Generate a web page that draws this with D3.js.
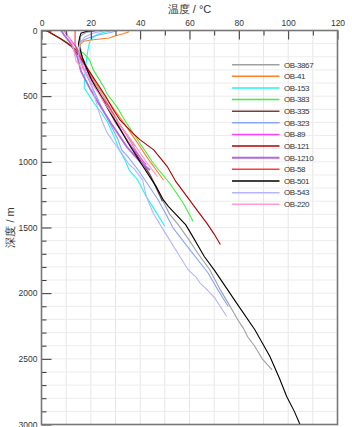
<!DOCTYPE html>
<html>
<head>
<meta charset="utf-8">
<script src="https://cdn.jsdelivr.net/npm/d3@7"></script>
<style>
  body { margin: 0; background: #fff; }
  svg { display: block; font-family: "Liberation Sans", Arial, sans-serif; }
  .tick text { fill: #333; }
</style>
</head>
<body>
<div id="chart"></div>
<script>
// temperature logs, each point is [depth m, temperature °C]
const wellNames = ["OB-3867", "OB-41", "OB-153", "OB-383", "OB-335", "OB-323", "OB-89",
    "OB-121", "OB-1210", "OB-58", "OB-501", "OB-543", "OB-220"];
const wellColors = ["#a0a0a0", "#ff7f27", "#1ff5f5", "#3cf03c", "#7a3c3c", "#86a8ff", "#ff44ff",
    "#b00000", "#b466dc", "#ff3a3a", "#000000", "#b4b4ff", "#ff9ccd"];

const ob3867 = [[0,23],[15,18],[40,16],[100,15.5],[200,16.5],[300,19],[400,21.5],[529,26],[706,31.5],
    [858,36.5],[1011,41.5],[1150,45.5],[1290,49],[1400,52],[1480,55.5],[1600,60],[1700,63.5],[1823,68.3],
    [1975,72.5],[2076,75.7],[2200,79.5],[2266,81.8],[2330,83.5],[2406,86.5],[2500,89.5],[2584,93.5]];
const ob41 = [[10,35.5],[25,33],[45,29],[57,27.5],[70,21],[82,17],[108,15.6],[160,15.3],[250,17.5],
    [400,22],[550,27.5],[681,32.5],[858,39],[985,43.5],[1100,48],[1140,49.5]];
const ob153 = [[0,29],[15,25],[32,22.4],[70,19.7],[133,19],[209,18.3],[336,17.6],[437,17.3],[500,19.5],
    [560,21.5],[630,24.5],[706,27],[833,30],[909,31.5],[985,33.8],[1062,35.5],[1138,39],[1265,42.5],
    [1400,47],[1490,50]];
const ob383 = [[0,3.4],[21,4],[80,9.5],[148,14.3],[173,17],[200,18.5],[234,19.7],[300,21],[361,23],
    [437,25.5],[478,26.4],[580,30.5],[706,34.5],[858,39.9],[973,44],[1011,45.3],[1163,52],[1315,57.5],
    [1455,61.5]];
const ob335 = [[0,2],[50,6.5],[100,11],[150,14],[200,16],[300,18.5],[400,21],[500,24],[600,27],
    [700,30],[800,33.5],[900,37],[1000,40.5],[1100,44],[1200,46.5],[1300,49]];
const ob323 = [[0,31],[15,28],[30,24],[50,20],[85,15.5],[150,14.5],[250,16],[350,18.5],[450,21],
    [550,23.5],[681,27],[833,31.1],[909,32.5],[960,35],[1062,39.2],[1176,43.3],[1290,47.3],[1400,50.5],
    [1505,53.4],[1670,60.2],[1848,67.6],[1975,71.5],[2102,75.7]];
const ob89 = [[0,9],[50,11],[100,13],[150,14.8],[250,17],[400,21],[550,26],[700,30.5],[858,35.5],
    [985,40.8],[1024,42.5]];
const ob121 = [[0,2],[60,7.5],[123,12.2],[200,15.5],[300,19],[400,22.5],[500,26],[600,29],[681,31.8],
    [782,37],[833,40],[909,45.5],[1036,51],[1151,54.5],[1290,60],[1379,63.5],[1467,67],[1550,70],
    [1630,72.5]];
const ob1210 = [[0,8],[30,9],[100,12],[200,14.5],[310,16],[437,19.5],[550,23],[700,28],[884,34.5],
    [1000,40],[1062,44]];
const ob58 = [[0,13.6],[110,13.6],[150,14.5],[200,15.5],[285,17],[437,21.7],[567,27],[700,31],
    [800,35],[880,38]];
const ob501 = [[0,22],[8,18],[20,16],[50,15.5],[100,15],[200,16.5],[300,18.5],[377,20.3],[529,25],
    [706,30.5],[858,35.2],[1011,40.3],[1189,46.5],[1290,49.4],[1341,51.5],[1391,54],[1480,58.5],
    [1543,60.5],[1721,66],[1823,70],[1962,75],[2076,79.1],[2279,86.5],[2482,92.6],[2650,96.5],
    [2787,99.4],[2900,102.5],[3000,104.8]];
const ob543 = [[0,26],[20,21],[50,17.5],[100,15.5],[200,15],[300,17.5],[377,19.7],[500,21.5],
    [605,23],[681,24.4],[770,26.4],[858,29.5],[934,32.5],[1011,35.2],[1062,37.9],[1138,41],[1265,42.5],
    [1391,45.3],[1518,49.4],[1721,56.1],[1823,59.5],[1874,62.5],[1924,64.3],[1962,66.5],[2038,70.3],
    [2178,75.1]];
const ob220 = [[0,9.5],[50,11],[100,12.5],[234,14],[300,17],[400,20.5],[550,25.5],[700,31],
    [850,37],[1000,42.5],[1113,47]];

const wellData = [ob3867, ob41, ob153, ob383, ob335, ob323, ob89, ob121, ob1210, ob58, ob501, ob543, ob220];

const tempTicks = [0, 20, 40, 60, 80, 100, 120];
const depthTicks = [0, 500, 1000, 1500, 2000, 2500, 3000];

const margin = {top: 30.5, right: 14.5, bottom: 2.5, left: 41.5};
const W = 352, H = 427;
const width = W - margin.left - margin.right;
const height = H - margin.top - margin.bottom;

const svg = d3.select("#chart").append("svg")
    .attr("width", W)
    .attr("height", H);

const g = svg.append("g")
    .attr("transform", `translate(${margin.left},${margin.top})`);

const x = d3.scaleLinear().domain([0, 120]).range([0, width]);
const y = d3.scaleLinear().domain([0, 3000]).range([0, height]);

// grid
g.append("g").selectAll("line")
    .data(d3.range(10, 120, 10))
    .join("line")
    .attr("x1", d => x(d)).attr("x2", d => x(d))
    .attr("y1", 0).attr("y2", height)
    .attr("stroke", "#e6e6e6");
g.append("g").selectAll("line")
    .data(d3.range(100, 3000, 100))
    .join("line")
    .attr("x1", 0).attr("x2", width)
    .attr("y1", d => y(d)).attr("y2", d => y(d))
    .attr("stroke", "#ececec");

// lines
svg.append("clipPath").attr("id", "clip")
    .append("rect").attr("width", width).attr("height", height);

const line = d3.line()
    .x(d => x(d[1]))
    .y(d => y(d[0]));

g.append("g").attr("clip-path", "url(#clip)")
    .selectAll("path")
    .data(wellData)
    .join("path")
    .attr("fill", "none")
    .attr("stroke", (d, i) => wellColors[i])
    .attr("stroke-width", (d, i) => wellNames[i] == "OB-1210" ? 1.8 : 1.1)
    .attr("d", line);

// axes
const xMinor = d3.axisTop(x).tickValues(d3.range(10, 120, 20)).tickSize(-5).tickFormat("");
const xMajor = d3.axisTop(x).tickValues(tempTicks).tickSize(-9).tickPadding(5).tickFormat(d3.format("d"));
const yMinor = d3.axisLeft(y).tickValues(d3.range(100, 3000, 100).filter(d => d % 500)).tickSize(-5).tickFormat("");
const yMajor = d3.axisLeft(y).tickValues(depthTicks).tickSize(-10).tickPadding(4).tickFormat(d3.format("d"));

[xMinor, xMajor, yMinor, yMajor].forEach(a => {
    g.append("g").call(a).call(s => s.select(".domain").remove())
        .call(s => s.selectAll("line").attr("stroke", "#333"))
        .call(s => s.selectAll("text").attr("font-size", 8.5));
});

// frame
g.append("rect")
    .attr("width", width).attr("height", height)
    .attr("fill", "none")
    .attr("stroke", "#777")
    .attr("stroke-width", 1.6);

// titles
svg.append("text")
    .attr("x", margin.left + width / 2).attr("y", 13)
    .attr("text-anchor", "middle")
    .attr("font-size", 11)
    .attr("fill", "#333")
    .text("温度 / °C");
svg.append("text")
    .attr("transform", `translate(14,${margin.top + y(1500)}) rotate(-90)`)
    .attr("text-anchor", "middle")
    .attr("font-size", 11)
    .attr("fill", "#333")
    .text("深度 / m");

// legend
const legend = svg.append("g").attr("transform", "translate(232,64.7)");
const rows = legend.selectAll("g")
    .data(wellNames)
    .join("g")
    .attr("transform", (d, i) => `translate(0,${i * 11.63})`);
rows.append("line")
    .attr("x1", 0).attr("x2", 47.5)
    .attr("stroke", (d, i) => wellColors[i])
    .attr("stroke-width", (d, i) => d == "OB-1210" ? 2.2 : 1.5);
rows.append("text")
    .attr("x", 52).attr("dy", "0.35em")
    .attr("font-size", 8)
    .attr("letter-spacing", -0.4)
    .attr("fill", "#333")
    .text(d => d);
</script>
</body>
</html>
